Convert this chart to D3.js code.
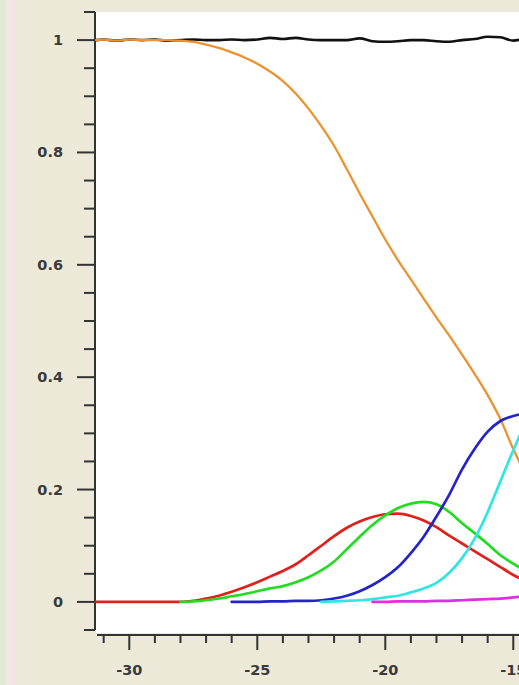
<!DOCTYPE html>
<html lang="en">
<head>
    <meta charset="UTF-8">
    <title>Fractions vs x</title>
    <script src="https://d3js.org/d3.v7.min.js"></script>
    <style>
        body {
            margin: 0;
            padding: 0;
            background: #ece9d8;
            overflow: hidden;
        }

        svg {
            display: block;
        }

        .tick-label {
            font-family: "DejaVu Sans", Verdana, sans-serif;
            font-size: 14.5px;
            font-weight: bold;
            fill: #3a3a3a;
        }
    </style>
</head>
<body>
    <svg id="chart" width="519" height="685"></svg>

    <script>
        // x positions shared by all series
        const xGrid = [-31.3, -31, -30.5, -30, -29.5, -29, -28.5, -28, -27.5, -27, -26.5, -26,
            -25.5, -25, -24.5, -24, -23.5, -23, -22.5, -22, -21.5, -21, -20.5, -20,
            -19.5, -19, -18.5, -18, -17.5, -17, -16.5, -16, -15.5, -15, -14.5, -14];

        const blackVals = [1.000, 1.001, 0.999, 1.001, 1.000, 1.001, 0.999, 1.000, 1.001, 1.000, 1.000, 1.001,
            1.000, 1.001, 1.004, 1.002, 1.004, 1.001, 1.000, 1.000, 1.000, 1.003, 0.998, 0.997,
            0.998, 1.000, 1.000, 0.998, 0.997, 1.000, 1.002, 1.006, 1.005, 0.999, 1.002, 1.000];

        const orangeVals = [1.000, 1.001, 0.999, 1.001, 1.000, 1.000, 1.000, 0.999, 0.997, 0.992, 0.986, 0.978,
            0.969, 0.958, 0.944, 0.927, 0.905, 0.878, 0.847, 0.812, 0.770, 0.727, 0.686, 0.645,
            0.608, 0.574, 0.540, 0.506, 0.474, 0.440, 0.405, 0.368, 0.325, 0.272, 0.225, 0.180];

        const redVals = [0, 0, 0, 0, 0, 0, 0, 0, 0.002, 0.006, 0.011, 0.018,
            0.026, 0.035, 0.045, 0.055, 0.067, 0.083, 0.100, 0.117, 0.132, 0.143, 0.151, 0.156,
            0.157, 0.153, 0.145, 0.133, 0.118, 0.104, 0.090, 0.076, 0.062, 0.048, 0.037, 0.028];

        const greenVals = [null, null, null, null, null, null, null, 0, 0.001, 0.003, 0.006, 0.010,
            0.014, 0.019, 0.024, 0.028, 0.035, 0.044, 0.056, 0.072, 0.094, 0.116, 0.137, 0.154,
            0.167, 0.175, 0.178, 0.174, 0.160, 0.140, 0.122, 0.103, 0.083, 0.068, 0.055, 0.044];

        const blueVals = [null, null, null, null, null, null, null, null, null, null, null, 0,
            0, 0, 0.001, 0.001, 0.002, 0.002, 0.003, 0.006, 0.011, 0.019, 0.030, 0.044,
            0.062, 0.087, 0.116, 0.152, 0.191, 0.236, 0.273, 0.303, 0.322, 0.331, 0.335, 0.336];

        const cyanVals = [null, null, null, null, null, null, null, null, null, null, null, null,
            null, null, null, null, null, null, 0, 0.001, 0.002, 0.003, 0.005, 0.008,
            0.011, 0.017, 0.024, 0.034, 0.052, 0.078, 0.113, 0.160, 0.215, 0.270, 0.320, 0.360];

        const magentaVals = [null, null, null, null, null, null, null, null, null, null, null, null,
            null, null, null, null, null, null, null, null, null, null, 0, 0,
            0.001, 0.001, 0.001, 0.002, 0.002, 0.003, 0.004, 0.005, 0.006, 0.008, 0.010, 0.012];

        const xMajorTicks = [-30, -25, -20, -15];
        const xMinorTicks = [-31, -30, -29, -28, -27, -26, -25, -24, -23, -22, -21, -20, -19, -18, -17, -16, -15];
        const yMajorTicks = [0, 0.2, 0.4, 0.6, 0.8, 1];
        const yMinorTicks = [-0.05, 0, 0.05, 0.1, 0.15, 0.2, 0.25, 0.3, 0.35, 0.4, 0.45, 0.5,
            0.55, 0.6, 0.65, 0.7, 0.75, 0.8, 0.85, 0.9, 0.95, 1, 1.05];

        const series = [
            { name: "black", color: "#111111", width: 2.6, values: blackVals },
            { name: "orange", color: "#ec9230", width: 2.3, values: orangeVals },
            { name: "red", color: "#e0201c", width: 2.7, values: redVals },
            { name: "green", color: "#22dc22", width: 2.7, values: greenVals },
            { name: "blue", color: "#2424c8", width: 2.7, values: blueVals },
            { name: "cyan", color: "#30e6e0", width: 2.7, values: cyanVals },
            { name: "magenta", color: "#e02ee0", width: 2.7, values: magentaVals }
        ];

        const svg = d3.select("#chart");

        const x = d3.scaleLinear().domain([-31.3, -14]).range([96, 96 + 17.3 * 25.6]);
        const y = d3.scaleLinear().domain([-0.05, 1.05]).range([630, 12]);

        // left window strips
        svg.append("rect").attr("x", 0).attr("y", 0).attr("width", 5).attr("height", 685).attr("fill", "#dfe9d6");
        svg.append("rect").attr("x", 7).attr("y", 0).attr("width", 8).attr("height", 685).attr("fill", "#f5e5e7");

        // plot area
        svg.append("rect")
            .attr("x", 96).attr("y", 12)
            .attr("width", 519 - 96).attr("height", 633 - 12)
            .attr("fill", "#ffffff");

        const axisColor = "#333333";

        // y axis
        const yAxis = svg.append("g");
        yAxis.append("line")
            .attr("x1", 95).attr("x2", 95)
            .attr("y1", y(1.05)).attr("y2", y(-0.05))
            .attr("stroke", axisColor).attr("stroke-width", 2);
        yAxis.selectAll(".ymin").data(yMinorTicks).enter().append("line")
            .attr("x1", d => yMajorTicks.includes(d) ? 77 : 84).attr("x2", 95)
            .attr("y1", d => y(d)).attr("y2", d => y(d))
            .attr("stroke", axisColor).attr("stroke-width", 2);
        yAxis.selectAll(".ylab").data(yMajorTicks).enter().append("text")
            .attr("class", "tick-label")
            .attr("x", 63).attr("y", d => y(d))
            .attr("text-anchor", "end")
            .attr("dominant-baseline", "central")
            .text(d => d3.format("~g")(d));

        // x axis
        const xAxis = svg.append("g");
        xAxis.append("line")
            .attr("x1", 97).attr("x2", 519)
            .attr("y1", 635).attr("y2", 635)
            .attr("stroke", axisColor).attr("stroke-width", 2);
        xAxis.selectAll(".xmin").data(xMinorTicks).enter().append("line")
            .attr("x1", d => x(d)).attr("x2", d => x(d))
            .attr("y1", 635).attr("y2", d => xMajorTicks.includes(d) ? 650 : 643)
            .attr("stroke", axisColor).attr("stroke-width", 2);
        xAxis.selectAll(".xlab").data(xMajorTicks).enter().append("text")
            .attr("class", "tick-label")
            .attr("x", d => x(d)).attr("y", 670)
            .attr("text-anchor", "middle")
            .attr("dominant-baseline", "central")
            .text(d => d);

        // curves
        const line = d3.line()
            .defined(d => d[1] !== null)
            .x(d => x(d[0]))
            .y(d => y(d[1]))
            .curve(d3.curveMonotoneX);

        svg.append("g").selectAll("path")
            .data(series)
            .enter().append("path")
            .attr("d", s => line(xGrid.map((xv, i) => [xv, s.values[i]])))
            .attr("fill", "none")
            .attr("stroke", s => s.color)
            .attr("stroke-width", s => s.width)
            .attr("stroke-linejoin", "round")
            .attr("stroke-linecap", "round");
    </script>
</body>
</html>
